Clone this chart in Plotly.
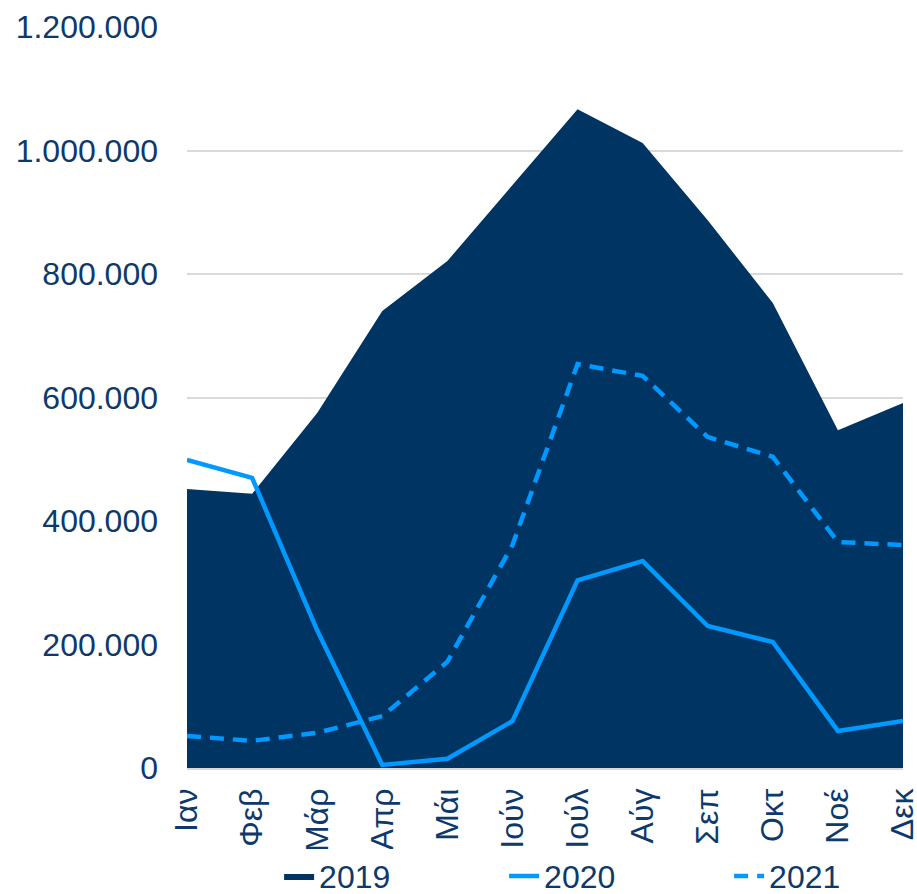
import plotly.graph_objects as go

months = ["Ιαν", "Φεβ", "Μάρ", "Απρ", "Μάι", "Ιούν", "Ιούλ", "Αύγ", "Σεπ", "Οκτ", "Νοέ", "Δεκ"]
y2019 = [452000, 444000, 575000, 740000, 821000, 944000, 1067000, 1012000, 887000, 753000, 547000, 591000]
y2020 = [499000, 470000, 223000, 5000, 15000, 76000, 304000, 335000, 230000, 204000, 60000, 76000]
y2021 = [52000, 44000, 57000, 84000, 172000, 361000, 654000, 635000, 536000, 504000, 366000, 361000]
y_ticks = [0, 200000, 400000, 600000, 800000, 1000000, 1200000]

NAVY = "#003463"
BLUE = "#0099FF"
TEXT = "#0E3A6B"
FS = 32

fig = go.Figure()
fig.add_trace(go.Scatter(x=months, y=y2019, name="2019", mode="lines",
                         fill="tozeroy", fillcolor=NAVY,
                         line=dict(width=0, color=NAVY)))
fig.add_trace(go.Scatter(x=months, y=y2020, name="2020", mode="lines",
                         line=dict(width=4.5, color=BLUE)))
fig.add_trace(go.Scatter(x=months, y=y2021, name="2021", mode="lines",
                         line=dict(width=4.5, color=BLUE, dash="14px,9px")))

fig.update_layout(
    width=917, height=894,
    margin=dict(l=187, r=14, t=27, b=126, autoexpand=False),
    paper_bgcolor="white", plot_bgcolor="white",
    separators=",.",
    font=dict(family="Liberation Sans, Arial, sans-serif", size=FS, color=TEXT),
    showlegend=True,
    legend=dict(orientation="h", x=0.6, xanchor="center", y=-0.146, yanchor="middle",
                font=dict(size=FS, color=TEXT), entrywidth=180, entrywidthmode="pixels",
                traceorder="normal"),
)
fig.update_xaxes(type="category", range=[0, 11], tickangle=-90, automargin=False,
                 showgrid=False, showline=True, linecolor="#D9D9D9", linewidth=1.5,
                 ticks="", ticklabelstandoff=6, tickfont=dict(size=FS, color=TEXT))
fig.update_yaxes(range=[0, 1200000], tickvals=y_ticks, tickformat=",d", automargin=False,
                 showgrid=True, gridcolor="#D9D9D9", gridwidth=1.5,
                 zeroline=False, showline=False, ticks="",
                 ticklabelstandoff=28,
                 tickfont=dict(size=FS, color=TEXT))

fig.write_html("out.html", config={"displayModeBar": False},
               post_script="document.body.style.margin='0';document.body.style.overflow='hidden';")
